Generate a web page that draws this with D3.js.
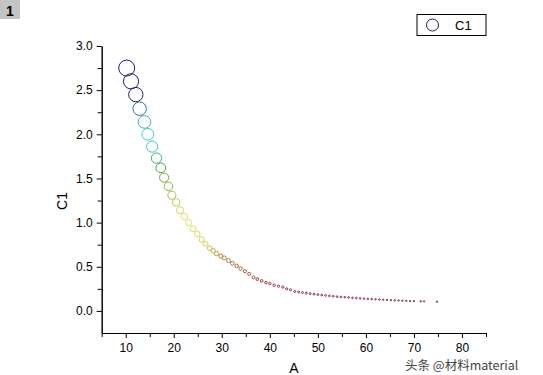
<!DOCTYPE html>
<html><head><meta charset="utf-8">
<script src="https://cdn.jsdelivr.net/npm/d3@7"></script>
<style>
body{margin:0;background:#fff;}
svg{display:block;font-family:"Liberation Sans",Arial,sans-serif;}
</style>
</head><body>
<svg id="chart" width="543" height="375"></svg>
<script>
// ---- data ----
const xValues = [10.2, 11.1, 12.1, 12.9, 13.9, 14.6, 15.5, 16.4, 17.3, 18.0, 18.9, 19.6, 20.5, 21.3,
  22.2, 23.1, 24.0, 24.9, 25.8, 26.6,
  27.5, 28.2, 28.9, 29.8, 30.5, 31.4, 32.2, 33.1, 33.9, 34.8, 35.7, 36.6, 37.4, 38.3, 39.2, 40.0, 40.9, 41.8, 42.7, 43.5, 44.3, 45.2,
  46.0, 46.8, 47.6, 48.4, 49.2, 50.0, 50.8, 51.6, 52.4, 53.2, 54.0, 54.8, 55.6, 56.4, 57.2, 58.0, 58.8, 59.6, 60.4, 61.2, 62.0, 62.8, 63.6, 64.4, 65.2, 66.0, 66.8, 67.6, 68.4, 69.2, 70.0,
  71.4, 72.1, 74.8];
const c1Values = [2.75, 2.60, 2.45, 2.29, 2.14, 2.00, 1.86, 1.73, 1.62, 1.51, 1.41, 1.31, 1.23, 1.14,
  1.07, 1.00, 0.93, 0.87, 0.81, 0.76,
  0.71, 0.68, 0.65, 0.62, 0.60, 0.57, 0.54, 0.51, 0.48, 0.45, 0.42, 0.38, 0.36, 0.34, 0.32, 0.31, 0.29, 0.28, 0.27, 0.25, 0.24, 0.22,
  0.215, 0.208, 0.202, 0.196, 0.190, 0.185, 0.180, 0.175, 0.171, 0.166, 0.162, 0.158, 0.155, 0.152, 0.148, 0.145, 0.142, 0.139, 0.136, 0.134, 0.131, 0.129, 0.127, 0.125, 0.122, 0.120, 0.118, 0.116, 0.114, 0.112, 0.111,
  0.109, 0.108, 0.104];
const xMajorTicks = [10, 20, 30, 40, 50, 60, 70, 80];
const xMinorTicks = [5, 15, 25, 35, 45, 55, 65, 75, 85];
const yMajorTicks = [0, 0.5, 1.0, 1.5, 2.0, 2.5, 3.0];
const yMinorTicks = [0.25, 0.75, 1.25, 1.75, 2.25, 2.75];
const seriesName = "C1";
const xTitle = "A";
const yTitle = "C1";
const panelLabel = "1";
const watermark = "头条 @材料material";
// colour map (value of C1 -> colour)
const colorStopValues = [0.10, 0.25, 0.40, 0.60, 0.75, 1.05, 1.25, 1.45, 1.65, 1.85, 2.05, 2.30, 2.45, 2.75];
const colorStopColors = ["#701028", "#902040", "#a85040", "#a88a40", "#d8d058", "#e4e470", "#c0c858", "#86b040", "#40a840", "#40c8b0", "#40d0e0", "#3070a0", "#202070", "#1c1c66"];

// ---- layout ----
const svg = d3.select("#chart");
const plotLeft = 101.7, plotRight = 486, plotTop = 46, plotBottom = 333;

const x = d3.scaleLinear().domain([5, 85]).range([plotLeft, plotRight]);
const y = d3.scaleLinear().domain([-0.25, 3.0]).range([plotBottom, plotTop]);
const r = d3.scaleLinear().domain([0, 2.75]).range([0.4, 8]);
const color = d3.scaleLinear().domain(colorStopValues).range(colorStopColors).clamp(true);

// panel label
svg.append("rect").attr("x", 0).attr("y", 0).attr("width", 20).attr("height", 19).attr("fill", "#c4c4c4");
svg.append("text").attr("x", 10).attr("y", 16).attr("text-anchor", "middle")
  .attr("font-size", 14).attr("font-weight", "bold").attr("fill", "#000").text(panelLabel);

// axes
const yAxis = d3.axisLeft(y).tickValues(yMajorTicks).tickFormat(d3.format(".1f"))
  .tickSize(5).tickSizeOuter(0).tickPadding(4);
const yMinor = d3.axisLeft(y).tickValues(yMinorTicks).tickFormat("").tickSize(4).tickSizeOuter(0);
const xAxis = d3.axisBottom(x).tickValues(xMajorTicks).tickFormat(d3.format("d"))
  .tickSize(5).tickSizeOuter(0).tickPadding(5);
const xMinor = d3.axisBottom(x).tickValues(xMinorTicks).tickFormat("").tickSize(4).tickSizeOuter(0);

function styleAxis(g) {
  g.selectAll("path,line").attr("stroke", "#000").attr("stroke-width", 1);
  g.selectAll("text").attr("font-size", 12).attr("fill", "#000")
    .attr("font-family", "'Liberation Sans', Arial, sans-serif");
}
svg.append("g").attr("transform", `translate(${plotLeft},0)`).call(yMinor).call(styleAxis);
svg.append("g").attr("transform", `translate(${plotLeft},0)`).call(yAxis).call(styleAxis);
svg.append("g").attr("transform", `translate(0,${plotBottom})`).call(xMinor).call(styleAxis);
svg.append("g").attr("transform", `translate(0,${plotBottom})`).call(xAxis).call(styleAxis);

// axis titles
svg.append("text").attr("x", (plotLeft + plotRight) / 2).attr("y", 373).attr("text-anchor", "middle")
  .attr("font-size", 14).attr("fill", "#000").text(xTitle);
svg.append("text").attr("transform", "translate(67,201) rotate(-90)").attr("text-anchor", "middle")
  .attr("font-size", 14).attr("fill", "#000").text(yTitle);

// points
const data = xValues.map((v, i) => ({x: v, y: c1Values[i]}));
svg.append("g").selectAll("circle").data(data).join("circle")
  .attr("cx", d => x(d.x)).attr("cy", d => y(d.y)).attr("r", d => r(d.y))
  .attr("fill", "none").attr("stroke", d => color(d.y))
  .attr("stroke-width", d => d.y < 0.3 ? 0.9 : 1);

// legend
const lg = svg.append("g");
lg.append("rect").attr("x", 417).attr("y", 14.5).attr("width", 69).attr("height", 21)
  .attr("fill", "#fff").attr("stroke", "#000").attr("stroke-width", 1);
lg.append("circle").attr("cx", 432.5).attr("cy", 25).attr("r", 6)
  .attr("fill", "none").attr("stroke", color(c1Values[0])).attr("stroke-width", 1);
lg.append("text").attr("x", 455).attr("y", 29.7).attr("font-size", 13).attr("fill", "#000").text(seriesName);

// watermark
svg.append("text").attr("x", 405).attr("y", 370).attr("font-size", 12.5)
  .attr("font-family", "'Noto Sans CJK SC', sans-serif")
  .attr("fill", "#444").attr("stroke", "#fff").attr("stroke-width", 1.5).attr("paint-order", "stroke")
  .text(watermark);
</script>
</body></html>
